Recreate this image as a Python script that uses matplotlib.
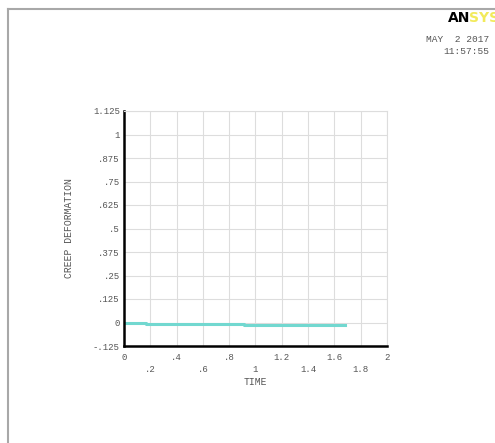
import matplotlib
matplotlib.use("Agg")
import matplotlib.pyplot as plt
from matplotlib.lines import Line2D

# ── Data ──────────────────────────────────────────────────────────────────────
time = [0.0, 0.17, 0.91, 1.68]
creep = [0.0, -0.006, -0.012, -0.012]

x_ticks = [0, 0.2, 0.4, 0.6, 0.8, 1.0, 1.2, 1.4, 1.6, 1.8, 2.0]
x_labels = ["0", ".2", ".4", ".6", ".8", "1", "1.2", "1.4", "1.6", "1.8", "2"]
y_ticks = [-0.125, 0, 0.125, 0.25, 0.375, 0.5, 0.625, 0.75, 0.875, 1.0, 1.125]
y_labels = ["-.125", "0", ".125", ".25", ".375", ".5", ".625", ".75", ".875", "1", "1.125"]

MONO = "Liberation Mono"
GREY = "#555555"
W, H = 495, 443

fig = plt.figure(figsize=(W / 100, H / 100), dpi=100)
fig.patch.set_facecolor("white")

# window frame lines (top and left)
fig.add_artist(Line2D([8 / W, 1], [1 - 9 / H, 1 - 9 / H], color="#a8a8a8", lw=1.5))
fig.add_artist(Line2D([8 / W, 8 / W], [0, 1 - 9 / H], color="#a8a8a8", lw=1.5))

ax = fig.add_axes([124 / W, 1 - 346 / H, 263 / W, 235 / H])
ax.plot(time, creep, drawstyle="steps-post", color="#72d8d0", lw=2.2)

ax.set_xlim(0, 2)
ax.set_ylim(-0.125, 1.125)
ax.set_xticks(x_ticks)
ax.set_yticks(y_ticks)
ax.set_xticklabels([])
ax.set_yticklabels(y_labels, fontsize=6.5, family=MONO, color=GREY)
ax.tick_params(axis="both", length=0)
ax.tick_params(axis="y", pad=3)
ax.grid(True, color="#dddddd", lw=0.8)

for s in ["top", "right"]:
    ax.spines[s].set_color("#dddddd")
    ax.spines[s].set_linewidth(0.8)
for s in ["left", "bottom"]:
    ax.spines[s].set_color("black")
    ax.spines[s].set_linewidth(1.8)

# staggered x tick labels
for i, (t, lab) in enumerate(zip(x_ticks, x_labels)):
    off = -8 if i % 2 == 0 else -17
    ax.annotate(lab, xy=(t, -0.125), xytext=(0, off), textcoords="offset points",
                ha="center", va="center", fontsize=6.5, family=MONO, color=GREY,
                annotation_clip=False)

ax.annotate("TIME", xy=(1.0, -0.125), xytext=(0, -26), textcoords="offset points",
            ha="center", va="center", fontsize=7, family=MONO, color=GREY,
            annotation_clip=False)
ax.set_ylabel("CREEP DEFORMATION", fontsize=7, family=MONO, color=GREY, labelpad=14)

# logo and date stamp
fig.text(448 / W, 1 - 18 / H, "AN", fontsize=10, fontweight="heavy", color="black",
         family="DejaVu Sans", va="center", ha="left")
fig.text(469 / W, 1 - 18 / H, "SYS", fontsize=10, fontweight="heavy", color="#f2ea5a",
         family="DejaVu Sans", va="center", ha="left")
fig.text(489 / W, 1 - 39 / H, "MAY  2 2017", fontsize=6.8, family=MONO, color=GREY,
         ha="right", va="center")
fig.text(489 / W, 1 - 51 / H, "11:57:55", fontsize=6.8, family=MONO, color=GREY,
         ha="right", va="center")

fig.savefig("out.png", dpi=100)
